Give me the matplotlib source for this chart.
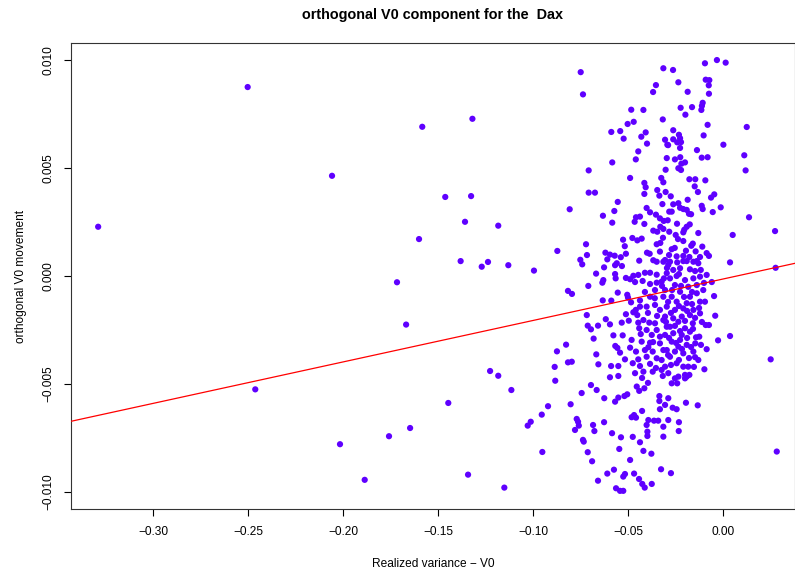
import numpy as np
import matplotlib.pyplot as plt

plt.rcParams['font.family'] = ['Liberation Sans', 'DejaVu Sans']

# scattered outliers on the left
rv_left = [-0.2502, -0.3289, -0.1319, -0.1583, -0.2058, -0.1462, -0.1326, -0.1358, -0.1600, -0.1381,
           -0.1270, -0.1237, -0.1716, -0.1668, -0.1226, -0.2462, -0.1446, -0.1647, -0.1758, -0.2016,
           -0.1886, -0.1342]
orth_left = [0.00875, 0.00228, 0.00728, 0.00691, 0.00464, 0.00366, 0.00370, 0.00251, 0.00171, 0.00069,
             0.00043, 0.00065, -0.00029, -0.00225, -0.00440, -0.00525, -0.00588, -0.00704, -0.00742, -0.00779,
             -0.00944, -0.00920]

# left edge of the main cloud
rv_edge = [-0.0749, -0.0737, -0.0707, -0.0707, -0.0674, -0.0807, -0.1183, -0.0721, -0.0872, -0.0716,
           -0.0751, -0.0741, -0.1130, -0.0995, -0.0668, -0.0816, -0.0795, -0.0709, -0.0717, -0.0712,
           -0.0695, -0.0658, -0.0681, -0.0826, -0.0874, -0.0667, -0.0816, -0.0796, -0.0656, -0.0886,
           -0.1183, -0.0883, -0.1114, -0.0695, -0.0744, -0.0665, -0.0802, -0.0921, -0.0954, -0.1028,
           -0.1012, -0.0770, -0.0763, -0.0759, -0.0779, -0.0684, -0.0677, -0.0737, -0.0733, -0.0712,
           -0.0689, -0.0951, -0.1151, -0.0658]
orth_edge = [0.00944, 0.00841, 0.00489, 0.00386, 0.00386, 0.00309, 0.00233, 0.00147, 0.00116, 0.00097,
             0.00075, 0.00054, 0.00050, 0.00025, 0.00011, -0.00069, -0.00083, -0.00046, -0.00181, -0.00230,
             -0.00247, -0.00230, -0.00290, -0.00318, -0.00349, -0.00363, -0.00400, -0.00397, -0.00409, -0.00421,
             -0.00462, -0.00485, -0.00528, -0.00505, -0.00542, -0.00528, -0.00594, -0.00603, -0.00642, -0.00693,
             -0.00675, -0.00662, -0.00675, -0.00693, -0.00713, -0.00690, -0.00718, -0.00759, -0.00767, -0.00816,
             -0.00858, -0.00815, -0.00980, -0.00948]

# top part of the cloud
rv_top = [-0.0314, -0.0353, -0.0368, -0.0483, -0.0419, -0.0317, -0.0470, -0.0502, -0.0588, -0.0541,
          -0.0407, -0.0430, -0.0523, -0.0305, -0.0293, -0.0400, -0.0446, -0.0459, -0.0296, -0.0263,
          -0.0095, -0.0032, 0.0014, -0.0235, -0.0091, -0.0072, -0.0075, -0.0186, -0.0074, -0.0107,
          -0.0111, -0.0114, -0.0223, -0.0163, -0.0198, -0.0081, 0.0125, -0.0262, -0.0232, -0.0226,
          -0.0262, -0.0241, -0.0221, -0.0289, -0.0102, 0.0002, -0.0226, -0.0137, 0.0112, -0.0253,
          -0.0225, -0.0112, -0.0081, -0.0583]
orth_top = [0.00962, 0.00884, 0.00852, 0.00770, 0.00769, 0.00725, 0.00714, 0.00704, 0.00667, 0.00671,
            0.00665, 0.00645, 0.00636, 0.00631, 0.00608, 0.00613, 0.00577, 0.00540, 0.00546, 0.00954,
            0.00985, 0.01000, 0.00988, 0.00897, 0.00909, 0.00907, 0.00883, 0.00853, 0.00844, 0.00802,
            0.00788, 0.00769, 0.00779, 0.00782, 0.00747, 0.00700, 0.00690, 0.00675, 0.00654, 0.00638,
            0.00633, 0.00619, 0.00620, 0.00606, 0.00651, 0.00608, 0.00593, 0.00583, 0.00559, 0.00540,
            0.00550, 0.00548, 0.00550, 0.00526]

# upper middle, left half
rv_upper_a = [-0.0302, -0.0489, -0.0325, -0.0314, -0.0414, -0.0407, -0.0414, -0.0346, -0.0302, -0.0335,
              -0.0554, -0.0319, -0.0572, -0.0632, -0.0402, -0.0384, -0.0353, -0.0283, -0.0437, -0.0458,
              -0.0465, -0.0332, -0.0312, -0.0291, -0.0583, -0.0414, -0.0330, -0.0367, -0.0346, -0.0314,
              -0.0283, -0.0477, -0.0451, -0.0428, -0.0526, -0.0316, -0.0517, -0.0349, -0.0330, -0.0400,
              -0.0386, -0.0511, -0.0619, -0.0595, -0.0570, -0.0538, -0.0609, -0.0332, -0.0284, -0.0441,
              -0.0367, -0.0349, -0.0559, -0.0305]
orth_upper_a = [0.00492, 0.00454, 0.00454, 0.00434, 0.00431, 0.00411, 0.00380, 0.00398, 0.00389, 0.00372,
                0.00343, 0.00333, 0.00301, 0.00279, 0.00315, 0.00295, 0.00284, 0.00298, 0.00275, 0.00272,
                0.00251, 0.00267, 0.00255, 0.00258, 0.00247, 0.00241, 0.00228, 0.00210, 0.00205, 0.00218,
                0.00205, 0.00176, 0.00165, 0.00173, 0.00168, 0.00177, 0.00138, 0.00147, 0.00153, 0.00108,
                0.00103, 0.00103, 0.00108, 0.00099, 0.00094, 0.00087, 0.00077, 0.00113, 0.00097, 0.00071,
                0.00073, 0.00066, 0.00059, 0.00074]

# upper middle, right half
rv_upper_b = [-0.0200, -0.0219, -0.0235, -0.0221, 0.0119, -0.0177, -0.0146, -0.0093, -0.0149, -0.0132,
              -0.0275, -0.0046, -0.0063, -0.0186, -0.0262, -0.0235, -0.0226, -0.0209, -0.0191, -0.0112,
              -0.0107, -0.0012, -0.0270, -0.0179, -0.0168, -0.0054, 0.0137, -0.0242, -0.0175, -0.0191,
              -0.0204, -0.0209, -0.0130, -0.0249, -0.0237, 0.0051, 0.0274, -0.0209, -0.0254, -0.0270,
              -0.0167, -0.0159, -0.0109, -0.0195, -0.0144, -0.0086, -0.0074, -0.0244, -0.0209, -0.0177,
              -0.0121, -0.0191, -0.0156, -0.0138, -0.0241, -0.0279, 0.0037]
orth_upper_b = [0.00526, 0.00520, 0.00499, 0.00491, 0.00489, 0.00448, 0.00448, 0.00443, 0.00415, 0.00389,
                0.00369, 0.00378, 0.00363, 0.00353, 0.00332, 0.00337, 0.00316, 0.00310, 0.00306, 0.00325,
                0.00310, 0.00318, 0.00298, 0.00288, 0.00286, 0.00296, 0.00272, 0.00242, 0.00239, 0.00228,
                0.00214, 0.00202, 0.00199, 0.00190, 0.00171, 0.00190, 0.00208, 0.00162, 0.00130, 0.00124,
                0.00140, 0.00150, 0.00136, 0.00117, 0.00114, 0.00106, 0.00093, 0.00091, 0.00093, 0.00088,
                0.00088, 0.00069, 0.00066, 0.00069, 0.00063, 0.00066, 0.00063]

# lower middle, left half
rv_lower_a = [-0.0626, -0.0568, -0.0532, -0.0568, -0.0565, -0.0630, -0.0635, -0.0511, -0.0489, -0.0472,
              -0.0446, -0.0411, -0.0384, -0.0349, -0.0311, -0.0463, -0.0423, -0.0384, -0.0349, -0.0321,
              -0.0554, -0.0504, -0.0500, -0.0633, -0.0588, -0.0484, -0.0437, -0.0384, -0.0359, -0.0314,
              -0.0459, -0.0437, -0.0402, -0.0358, -0.0332, -0.0511, -0.0472, -0.0451, -0.0617, -0.0533,
              -0.0496, -0.0446, -0.0419, -0.0388, -0.0358, -0.0314, -0.0296, -0.0595, -0.0441, -0.0402,
              -0.0349, -0.0577, -0.0528, -0.0433, -0.0375, -0.0332, -0.0481, -0.0428, -0.0384, -0.0332,
              -0.0567, -0.0556, -0.0489, -0.0458, -0.0393, -0.0370, -0.0314, -0.0542, -0.0516, -0.0446,
              -0.0402, -0.0349, -0.0323, -0.0589, -0.0551, -0.0475, -0.0437, -0.0384, -0.0305, -0.0595,
              -0.0551, -0.0463, -0.0419, -0.0370, -0.0323]
orth_lower_a = [0.00040, 0.00050, 0.00046, 0.00009, -0.00011, -0.00019, -0.00031, -0.00009, -0.00015, 0.00001,
                0.00005, 0.00015, 0.00015, 0.00006, -0.00011, -0.00028, -0.00023, -0.00037, -0.00031, -0.00046,
                -0.00077, -0.00087, -0.00100, -0.00113, -0.00114, -0.00122, -0.00113, -0.00096, -0.00103, -0.00096,
                -0.00157, -0.00142, -0.00142, -0.00134, -0.00157, -0.00177, -0.00168, -0.00181, -0.00200, -0.00216,
                -0.00207, -0.00216, -0.00204, -0.00216, -0.00219, -0.00204, -0.00235, -0.00224, -0.00242, -0.00250,
                -0.00250, -0.00275, -0.00275, -0.00269, -0.00273, -0.00281, -0.00296, -0.00304, -0.00309, -0.00312,
                -0.00324, -0.00333, -0.00332, -0.00350, -0.00330, -0.00350, -0.00343, -0.00355, -0.00386, -0.00386,
                -0.00374, -0.00381, -0.00389, -0.00417, -0.00417, -0.00404, -0.00417, -0.00407, -0.00420, -0.00469,
                -0.00463, -0.00450, -0.00443, -0.00443, -0.00435]

# lower middle, right half
rv_lower_b = [0.0277, -0.0059, -0.0047, -0.0041, -0.0091, -0.0074, -0.0159, 0.0037, -0.0026, -0.0142,
              -0.0125, -0.0146, -0.0086, -0.0156, 0.0251, -0.0147, -0.0130, -0.0098, -0.0183, -0.0200,
              -0.0253, -0.0314, -0.0288, -0.0209, -0.0130, -0.0117, -0.0262, -0.0226, -0.0174, -0.0296,
              -0.0323, -0.0279, -0.0244, -0.0200, -0.0156, -0.0121, -0.0086, -0.0138, -0.0183, -0.0253,
              -0.0305, -0.0104, -0.0138, -0.0174, -0.0226, -0.0270, -0.0244, -0.0191, -0.0121, -0.0095,
              -0.0296, -0.0253, -0.0209, -0.0156, -0.0305, -0.0262, -0.0217, -0.0174, -0.0121, -0.0279,
              -0.0235, -0.0200, -0.0262, -0.0217, -0.0174, -0.0305, -0.0270, -0.0226, -0.0191, -0.0296,
              -0.0253, -0.0209, -0.0235, -0.0279, -0.0244, -0.0209, -0.0288, -0.0235, -0.0191]
orth_lower_b = [0.00038, -0.00028, -0.00093, -0.00184, -0.00227, -0.00227, -0.00219, -0.00278, -0.00298, -0.00284,
                -0.00281, -0.00312, -0.00339, -0.00350, -0.00386, -0.00376, -0.00389, -0.00432, -0.00420, -0.00458,
                -0.00474, 0.00066, 0.00051, 0.00069, 0.00059, 0.00028, 0.00028, 0.00036, 0.00031, 0.00013,
                -0.00026, -0.00011, 0.00000, -0.00019, -0.00011, -0.00003, 0.00005, -0.00042, -0.00050, -0.00042,
                -0.00065, -0.00065, -0.00080, -0.00096, -0.00073, -0.00096, -0.00119, -0.00126, -0.00119, -0.00119,
                -0.00142, -0.00157, -0.00150, -0.00157, -0.00188, -0.00196, -0.00188, -0.00181, -0.00173, -0.00235,
                -0.00212, -0.00242, -0.00265, -0.00273, -0.00258, -0.00273, -0.00304, -0.00296, -0.00319, -0.00343,
                -0.00350, -0.00358, -0.00327, -0.00374, -0.00404, -0.00420, -0.00450, -0.00466, -0.00466]

# overlapping points inside the solid core
rv_core = [-0.0295, -0.0232, -0.0147, -0.0100, -0.0221, -0.0268, -0.0163, -0.0205, -0.0289, -0.0163,
           -0.0232, -0.0126, -0.0189, -0.0274, -0.0147, -0.0200, -0.0300, -0.0253, -0.0158, -0.0226,
           -0.0284, -0.0189, -0.0247, -0.0168, -0.0216, -0.0289, -0.0179, -0.0232, -0.0274, -0.0153,
           -0.0358, -0.0411, -0.0347, -0.0395, -0.0368, -0.0411, -0.0353, -0.0426, -0.0111, -0.0116]
orth_core = [0.00037, 0.00009, 0.00023, -0.00032, -0.00046, -0.00065, -0.00074, -0.00097, -0.00120, -0.00130,
             -0.00139, -0.00148, -0.00162, -0.00171, -0.00194, -0.00208, -0.00213, -0.00231, -0.00245, -0.00255,
             -0.00287, -0.00287, -0.00310, -0.00329, -0.00338, -0.00366, -0.00380, -0.00389, -0.00412, -0.00421,
             -0.00065, -0.00074, -0.00185, -0.00171, -0.00306, -0.00343, -0.00426, -0.00472, -0.00213, -0.00319]

# bottom part of the cloud
rv_bottom = [-0.0625, -0.0568, -0.0551, -0.0519, -0.0504, -0.0454, -0.0441, -0.0414, -0.0395, -0.0317,
             -0.0335, -0.0335, -0.0305, -0.0332, -0.0288, -0.0426, -0.0481, -0.0468, -0.0458, -0.0626,
             -0.0393, -0.0363, -0.0341, -0.0288, -0.0402, -0.0314, -0.0398, -0.0398, -0.0584, -0.0537,
             -0.0475, -0.0314, -0.0437, -0.0546, -0.0419, -0.0377, -0.0489, -0.0326, -0.0574, -0.0609,
             -0.0516, -0.0525, -0.0468, -0.0442, -0.0425, -0.0412, -0.0375, -0.0563, -0.0542, -0.0525,
             -0.0200, -0.0270, -0.0241, -0.0177, -0.0265, -0.0244, -0.0195, -0.0133, -0.0232, -0.0233,
             0.0283, -0.0274]
orth_bottom = [-0.00566, -0.00582, -0.00563, -0.00556, -0.00548, -0.00512, -0.00532, -0.00520, -0.00495, -0.00463,
               -0.00556, -0.00579, -0.00597, -0.00617, -0.00566, -0.00625, -0.00654, -0.00644, -0.00656, -0.00677,
               -0.00667, -0.00670, -0.00670, -0.00667, -0.00690, -0.00698, -0.00721, -0.00741, -0.00728, -0.00747,
               -0.00745, -0.00744, -0.00770, -0.00801, -0.00810, -0.00823, -0.00852, -0.00895, -0.00897, -0.00915,
               -0.00917, -0.00929, -0.00915, -0.00940, -0.00963, -0.00980, -0.00963, -0.00983, -0.00995, -0.00995,
               -0.00474, -0.00497, -0.00497, -0.00458, -0.00610, -0.00617, -0.00587, -0.00599, -0.00677, -0.00718,
               -0.00813, -0.00913]

# fitted regression line (intercept, slope)
fit_intercept = -0.00014
fit_slope = 0.0192

rv = np.concatenate([rv_left, rv_edge, rv_top, rv_upper_a, rv_upper_b, rv_lower_a, rv_lower_b,
                     rv_core, rv_bottom])
orth = np.concatenate([orth_left, orth_edge, orth_top, orth_upper_a, orth_upper_b, orth_lower_a,
                       orth_lower_b, orth_core, orth_bottom])

fig = plt.figure(figsize=(7.95, 5.71), dpi=100)
ax = fig.add_axes([0.0893, 0.1086, 0.9107, 0.8161])

ax.scatter(rv, orth, s=20, color='#5f00ff', edgecolors='none', zorder=2)
ax.axline((0, fit_intercept), slope=fit_slope, color='red', lw=0.9, zorder=3)

ax.set_xlim(-0.3432, 0.0379)
ax.set_ylim(-0.01079, 0.01079)
ax.set_xticks([-0.30, -0.25, -0.20, -0.15, -0.10, -0.05, 0.00])
ax.set_xticklabels(['−0.30', '−0.25', '−0.20', '−0.15', '−0.10', '−0.05', '0.00'])
ax.set_yticks([-0.010, -0.005, 0.0, 0.005, 0.010])
ax.set_yticklabels(['−0.010', '−0.005', '0.000', '0.005', '0.010'], rotation=90, va='center')
ax.tick_params(direction='out', length=5, width=0.8, labelsize=8.6, pad=7)
for sp in ax.spines.values():
    sp.set_linewidth(0.8)
    sp.set_color('#333333')

ax.set_xlabel('Realized variance − V0', fontsize=8.6, labelpad=15)
ax.set_ylabel('orthogonal V0 movement', fontsize=8.6, labelpad=11)
ax.set_title('orthogonal V0 component for the  Dax', fontsize=10.4, fontweight='bold', pad=17)

fig.savefig('out.png', dpi=100)
